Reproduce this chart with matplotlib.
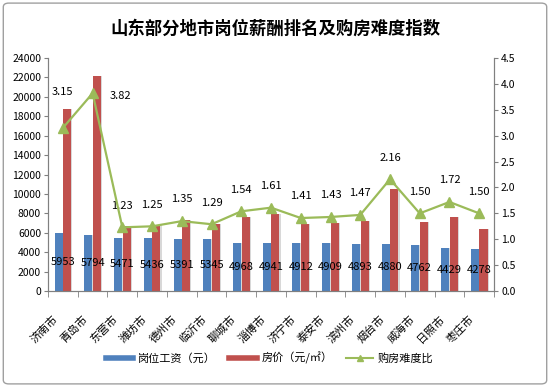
import matplotlib
matplotlib.use('Agg')
import matplotlib.pyplot as plt
import matplotlib.transforms as mtransforms
import numpy as np
from matplotlib.patches import FancyBboxPatch
from matplotlib.lines import Line2D

plt.rcParams['font.family'] = ['Noto Sans CJK SC', 'DejaVu Sans']

# data
cities = ['济南市', '青岛市', '东营市', '潍坊市', '德州市', '临沂市', '聊城市', '淄博市',
          '济宁市', '泰安市', '滨州市', '烟台市', '威海市', '日照市', '枣庄市']
wages = [5953, 5794, 5471, 5436, 5391, 5345, 4968, 4941, 4912, 4909, 4893, 4880, 4762, 4429, 4278]
prices = [18750, 22100, 6730, 6800, 7280, 6900, 7650, 7950, 6930, 7020, 7190, 10540, 7140, 7620, 6420]
ratios = [3.15, 3.82, 1.23, 1.25, 1.35, 1.29, 1.54, 1.61, 1.41, 1.43, 1.47, 2.16, 1.50, 1.72, 1.50]

blue = '#4F81BD'
red = '#C0504D'
green = '#9BBB59'

fig = plt.figure(figsize=(5.5, 3.87), dpi=100)
fig.patches.append(FancyBboxPatch((0.006, 0.008), 0.988, 0.984, boxstyle='round,pad=0,rounding_size=0.01',
                                  transform=fig.transFigure, fill=False, ec='#A0A0A0', lw=1.0))
ax = fig.add_axes([0.0873, 0.248, 0.811, 0.602])
x = np.arange(len(cities))
w = 0.27
# light shadow behind the bars
ax.bar(x - 0.145 + 0.04, wages, w, color='#D8D8D8', zorder=1)
ax.bar(x + 0.145 + 0.04, prices, w, color='#D8D8D8', zorder=1)
ax.bar(x - 0.145, wages, w, color=blue, zorder=2)
ax.bar(x + 0.145, prices, w, color=red, zorder=2)
for i, v in enumerate(wages):
    ax.text(x[i], v / 2, str(v), ha='center', va='center', fontsize=8, color='black', zorder=5)

ax.set_xlim(-0.5, len(cities) - 0.5)
ax.set_ylim(0, 24000)
ax.set_yticks(range(0, 24001, 2000))
ax.tick_params(axis='y', labelsize=7.5, length=3, color='#808080', pad=2)
ax.set_xticks(x)
ax.set_xticklabels(cities, rotation=45, ha='right', va='center', rotation_mode='anchor', fontsize=8)
ax.tick_params(axis='x', which='major', length=0, pad=19)
shift = mtransforms.ScaledTranslation(-5 / 72, 0, fig.dpi_scale_trans)
for lbl in ax.get_xticklabels():
    lbl.set_transform(lbl.get_transform() + shift)
ax.set_xticks(np.arange(-0.5, len(cities), 1), minor=True)
ax.tick_params(axis='x', which='minor', length=4, color='#808080')
ax.spines['top'].set_visible(False)
for s in ['left', 'right', 'bottom']:
    ax.spines[s].set_color('#808080')

ax2 = ax.twinx()
ax2.plot(x, ratios, color=green, lw=1.6, marker='^', ms=7, zorder=6)
ax2.set_ylim(0, 4.5)
ax2.set_yticks(np.arange(0, 4.51, 0.5))
ax2.set_yticklabels(['%.1f' % t for t in np.arange(0, 4.51, 0.5)])
ax2.tick_params(axis='y', labelsize=7.5, length=3, color='#808080', pad=2)
ax2.spines['top'].set_visible(False)
for s in ['left', 'right', 'bottom']:
    ax2.spines[s].set_color('#808080')
offsets = {0: (0, 22), 1: (20, -2)}
for i, r in enumerate(ratios):
    dx, dy = offsets.get(i, (0, 12))
    ax2.annotate('%.2f' % r, (x[i], r), xytext=(dx, dy), textcoords='offset points',
                 ha='center', va='bottom' if i != 1 else 'center', fontsize=8)

fig.text(0.5, 0.925, '山东部分地市岗位薪酬排名及购房难度指数', ha='center', va='center',
         fontsize=12.5, fontweight='bold')

handles = [Line2D([], [], color=blue, lw=4),
           Line2D([], [], color=red, lw=4),
           Line2D([], [], color=green, lw=1.5, marker='^', ms=4)]
fig.legend(handles, ['岗位工资（元）', '房价（元/㎡）', '购房难度比'], loc='center',
           bbox_to_anchor=(0.49, 0.075), ncol=3, frameon=False, fontsize=8,
           handlelength=2.5, columnspacing=1.2, handletextpad=0.4)

fig.savefig('out.png', dpi=100)
